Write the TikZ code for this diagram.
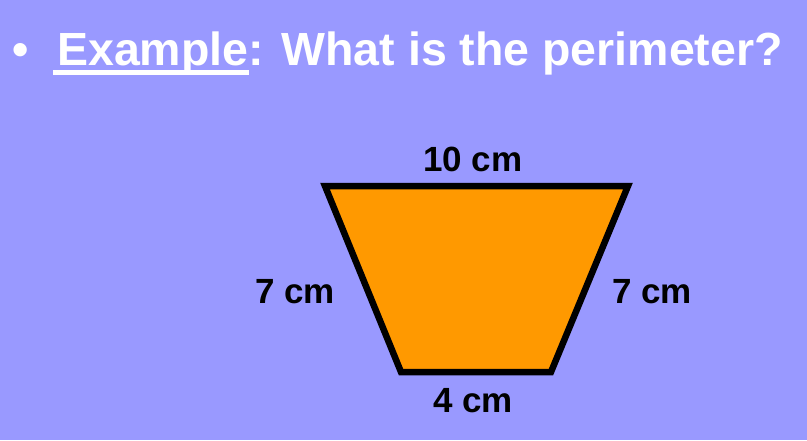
\documentclass[tikz,border=0pt]{standalone}
\usepackage{fontspec}
\setmainfont{Liberation Sans}
\definecolor{bg}{HTML}{9999FF}
\definecolor{fillor}{HTML}{FF9900}
\tikzset{
  titletext/.style={inner sep=0pt, text=white, font=\fontsize{46.5}{50}\selectfont\bfseries},
  lbl/.style={inner sep=0pt, text=black, font=\fontsize{35}{38}\selectfont\bfseries, anchor=base},
  trapstyle/.style={draw=black, fill=fillor, line width=6.5pt, line join=miter}
}
\begin{document}
\begin{tikzpicture}[x=1pt,y=-1pt]
\fill[bg] (0,0) rectangle (807,440);
\useasboundingbox (0,0) rectangle (807,440);
% title
\node[titletext, anchor=base west] (bul) at (12,65) {•};
\node[titletext, anchor=base west] (ex) at (57,65) {Example};
\node[titletext, anchor=base west] (rest) at (ex.base east) {: What is the perimeter?};
\draw[white, line width=5pt] ([xshift=-4pt,yshift=-7.5pt]ex.base west) -- ([yshift=-7.5pt]ex.base east);
% trapezoid
\coordinate (tl) at (325,186);
\coordinate (tr) at (628,186);
\coordinate (br) at (551,372);
\coordinate (bl) at (401,372);
\draw[trapstyle] (tl) -- (tr) -- (br) -- (bl) -- cycle;
% labels
\node[lbl] (top) at (473,171) {10 cm};
\node[lbl] (left) at (295,303) {7 cm};
\node[lbl] (right) at (652,303) {7 cm};
\node[lbl] (bottom) at (473,412) {4 cm};
\end{tikzpicture}
\end{document}
